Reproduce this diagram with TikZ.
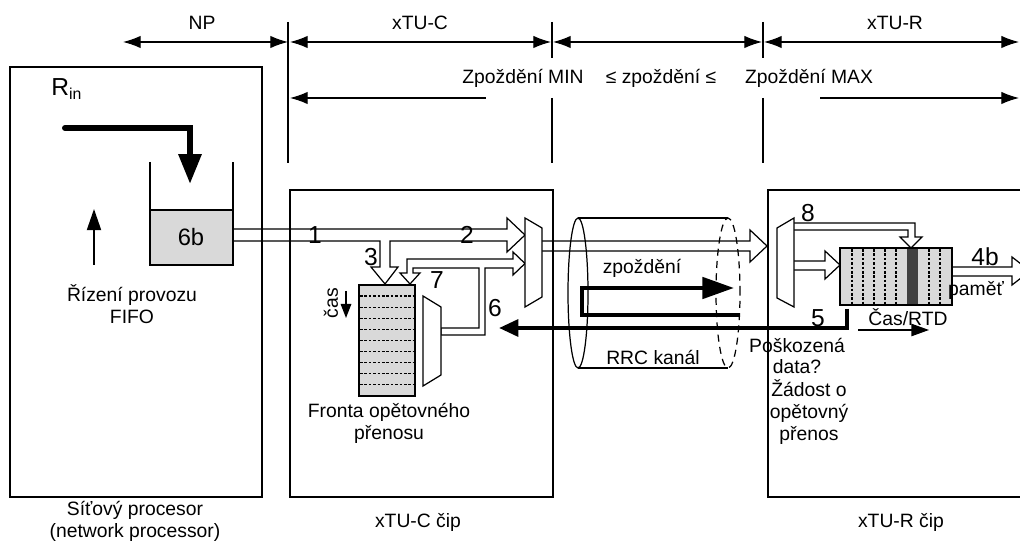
\documentclass[tikz,border=0pt]{standalone}
\usepackage{fontspec}
\setmainfont{Liberation Sans}
\usetikzlibrary{arrows.meta}
\definecolor{lgray}{HTML}{D9D9D9}
\definecolor{dgray}{HTML}{404040}
\begin{document}
\begin{tikzpicture}[x=0.02cm,y=-0.02cm,
 txt/.style={font=\fontsize{11}{12.5}\selectfont, inner sep=0pt, align=center},
 num/.style={font=\fontsize{14}{15}\selectfont, inner sep=0pt},
 box/.style={line width=1.1pt},
 thin/.style={line width=0.6pt},
 band/.style={line width=0.7pt, line join=miter},
 dim/.style={line width=0.6pt, {Latex[length=10pt,width=7pt]}-{Latex[length=10pt,width=7pt]}},
 mux/.style={line width=0.7pt, fill=white},
 dashl/.style={line width=0.6pt, dash pattern=on 1.5pt off 1pt},
]
\useasboundingbox (0,0) rectangle (1020,546);

% ---------- top dimension lines
\draw[dim] (123,42) -- (288,42);
\draw[dim] (290,42) -- (551,42);
\draw[dim] (553,42) -- (762,42);
\draw[dim] (764,42) -- (1019,42);
\draw[thin] (288,22) -- (288,163);
\draw[thin] (552,22) -- (552,58) (552,98) -- (552,163);
\draw[thin] (763,22) -- (763,58) (763,98) -- (763,163);
\draw[thin,{Latex[length=10pt,width=7pt]}-] (290,98) -- (486,98);
\draw[thin,-{Latex[length=10pt,width=7pt]}] (820,98) -- (1019,98);
\node[txt] (tNP) at (202,23) {NP};
\node[txt] (tC) at (420,23) {xTU-C};
\node[txt] (tR) at (895,23) {xTU-R};
\node[txt] (tmin) at (523,78) {Zpoždění MIN};
\node[txt] (tmid) at (661,78) {≤ zpoždění ≤};
\node[txt] (tmax) at (809,78) {Zpoždění MAX};

% ---------- hollow bands (drawn first)
\draw[band] (233,229) -- (507,229) -- (507,218) -- (525,235) -- (507,252) -- (507,241)
  -- (390,241) -- (390,267) -- (398,267) -- (385,284) -- (371,267) -- (380,267) -- (380,241)
  -- (233,241);
\draw[band] (407,259) -- (513,259) -- (513,252) -- (525,263.5) -- (513,275) -- (513,268)
  -- (485,268) -- (485,335) -- (441,335) -- (441,328) -- (479,328) -- (479,268) -- (413,268)
  -- (413,273) -- (420,273) -- (410,284) -- (400,273) -- (407,273) -- cycle;
\draw[band] (542,241) -- (750,241) -- (750,230) -- (767,246) -- (750,262) -- (750,251) -- (542,251);
\draw[band] (794,223) -- (915,223) -- (915,237) -- (922,237) -- (911,248) -- (900,237)
  -- (908,237) -- (908,230) -- (794,230);
\draw[band] (794,261) -- (825,261) -- (825,251) -- (840,265) -- (825,279) -- (825,270) -- (794,270);
\draw[band] (952,267) -- (1012,267) -- (1012,257) -- (1030,271) -- (1012,285) -- (1012,276) -- (952,276);

% ---------- main boxes
\draw[box] (10,67) rectangle (262,497);
\draw[box] (290,190) rectangle (553,497);
\draw[box] (768,190) rectangle (1030,497);

% ---------- network processor
\node[font=\fontsize{14}{15}\selectfont, inner sep=0pt, anchor=west] (rin) at (51,89)
  {R\raisebox{-0.35ex}{\fontsize{9}{9}\selectfont in}};
\draw[line width=3.4pt, line cap=round, line join=miter, -{Triangle[length=17pt,width=12.5pt]}]
  (65,128) -- (190,128) -- (190,184);
\fill[lgray] (150,210) rectangle (233,265);
\draw[box] (150,162) -- (150,265) -- (233,265) -- (233,162);
\draw[box] (150,210) -- (233,210);
\node[font=\fontsize{13.5}{15}\selectfont, inner sep=0pt] (f6b) at (191,237) {6b};
\draw[line width=1pt, -{Triangle[length=12pt,width=8pt]}] (94,265) -- (94,209);
\node[txt] (rizeni) at (132,304) {Řízení provozu\\FIFO};

% ---------- xTU-C chip
\fill[lgray] (359,285) rectangle (415,396);
\foreach \yy in {296,307.1,318.2,329.3,340.4,351.6,362.7,373.8,384.9}
  \draw[dashl] (360,\yy) -- (414,\yy);
\draw[line width=0.8pt] (359,285) rectangle (415,396);
\draw[mux] (423,296) -- (441,307) -- (441,375) -- (423,386) -- cycle;
\draw[mux] (525,218) -- (542,228) -- (542,297) -- (525,307) -- cycle;
\node[num] (n1) at (315,235) {1};
\node[num] (n2) at (467,235) {2};
\node[num] (n3) at (371,257) {3};
\node[num] (n7) at (437,280) {7};
\node[num] (n6) at (495,308) {6};
\node[txt, rotate=90] (cas) at (331,303) {čas};
\draw[line width=0.8pt, -{Triangle[length=8pt,width=6pt]}] (346,291) -- (346,318);
\node[txt] (fronta) at (389,423) {Fronta opětovného\\přenosu};

% ---------- channel
\draw[line width=0.7pt] (578,218) -- (728,218) (578,368) -- (728,368);
\draw[line width=0.7pt] (578,293) ellipse [x radius=0.2cm, y radius=1.5cm];
\draw[line width=0.7pt, dash pattern=on 4pt off 3pt] (728,293) ellipse [x radius=0.24cm, y radius=1.5cm];
\draw[line width=2.6pt, line join=miter, -{Triangle[length=18pt,width=12pt]}]
  (739,315) -- (582,315) -- (582,288) -- (734,288);
\node[txt] (zp) at (642,268) {zpoždění};
\node[txt] (rrc) at (653,357) {RRC kanál};

% ---------- return line
\draw[line width=2.3pt, line join=miter, -{Triangle[length=11pt,width=9.5pt]}]
  (847,309) -- (847,328) -- (499,328);
\node[num] (n5) at (818,318) {5};

% ---------- xTU-R chip
\draw[mux] (777,228) -- (794,218) -- (794,307) -- (777,298) -- cycle;
\fill[lgray] (840,248) rectangle (952,305);
\fill[dgray] (907,248) rectangle (918,305);
\foreach \xx in {852,863,874,885,896,929,940}
  \draw[dashl] (\xx,249) -- (\xx,304);
\draw[line width=0.8pt] (840,248) rectangle (952,305);
\node[num] (n8) at (808,213) {8};
\node[num] (n4b) at (985,257) {4b};
\node[txt] (pamet) at (976,290) {paměť};
\node[txt] (rtd) at (908,317) {Čas/RTD};
\draw[line width=0.8pt, -{Triangle[length=10pt,width=7pt]}] (858,330) -- (929,330);
\node[txt] (posk) at (797,356) {Poškozená\\data?};
\node[txt] (zad) at (809,412) {Žádost o\\opětovný\\přenos};

% ---------- bottom labels
\node[txt] (np) at (135,521) {Síťový procesor\\(network processor)};
\node[txt] (cc) at (418,522) {xTU-C čip};
\node[txt] (rc) at (901,522) {xTU-R čip};
\end{tikzpicture}
\end{document}
